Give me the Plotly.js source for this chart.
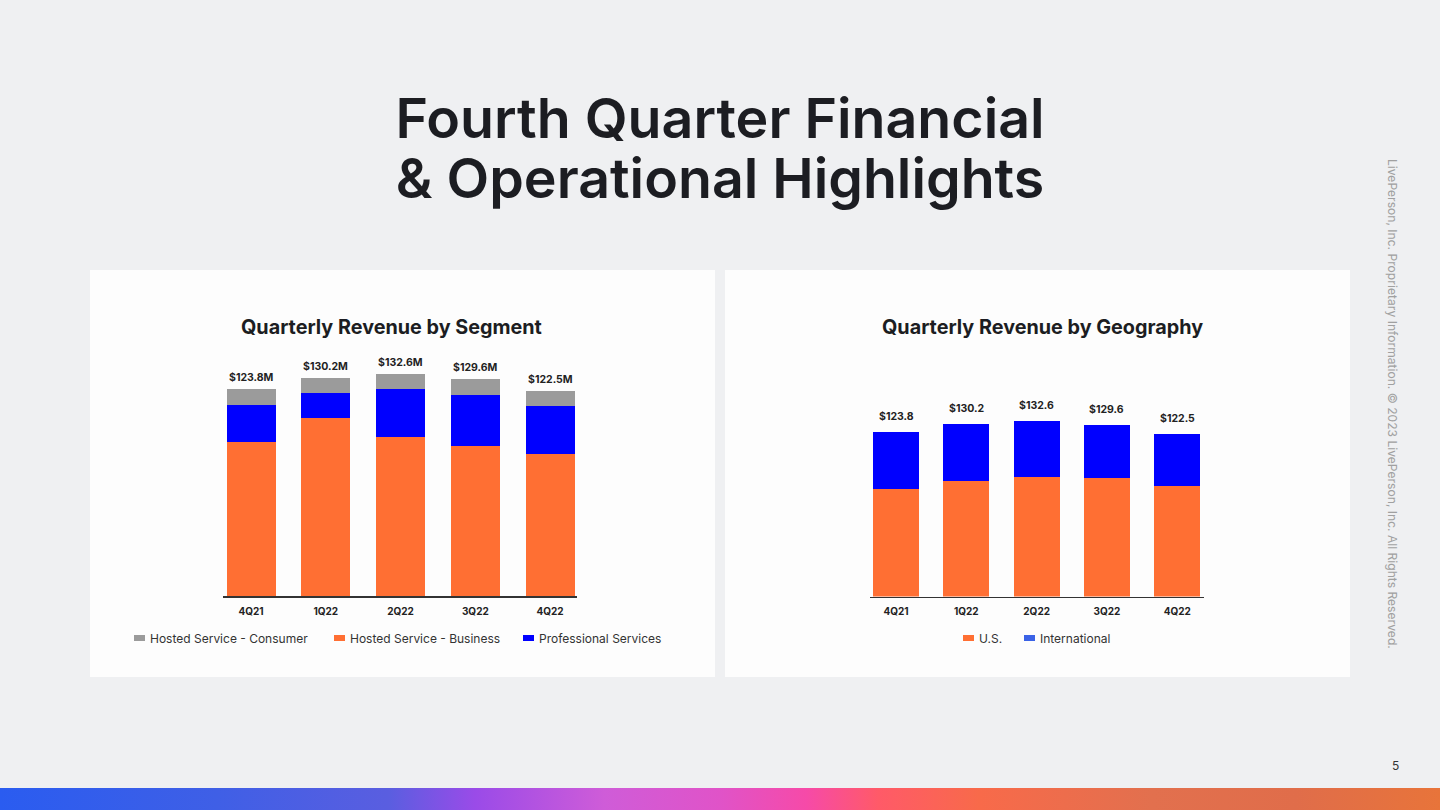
<!DOCTYPE html>
<html>
<head>
<meta charset="utf-8">
<script src="https://cdn.plot.ly/plotly-3.0.1.min.js"></script>
<style>
  html, body { margin: 0; padding: 0; width: 1440px; height: 810px; overflow: hidden; background: #eff0f2; }
  #bar { position: absolute; left: 0; top: 788px; width: 1440px; height: 22px;
    background: linear-gradient(90deg, #2a5cf0 0%, #3f5fe6 15%, #5a5ee0 27%, #9a4be8 33%, #cf5cd8 42%, #e053c8 50%, #f64aa8 56%, #ff5a68 61%, #f86a4a 68%, #e2704e 80%, #e06d4a 90%, #e8743a 100%); }
  #chart { position: absolute; left: 0; top: 0; width: 1440px; height: 810px; }
  #title { position: absolute; left: 0; top: 88px; width: 1440px; text-align: center; z-index: 2;
    font-family: Inter, 'Noto Sans', sans-serif; font-weight: 600; font-size: 55.5px; line-height: 60px; color: #1c1d22; }
</style>
</head>
<body>
<div id="bar"></div>
<div id="chart"></div>
<div id="title">Fourth Quarter Financial<br>&amp; Operational Highlights</div>
<script>
// ---- Data ----
const quarters = ["4Q21", "1Q22", "2Q22", "3Q22", "4Q22"];

// Segment chart (USD millions)
const segBusiness     = [91.8, 106.5, 94.9, 89.5, 85.0];
const segProfessional = [22.4, 14.8, 28.6, 30.6, 28.6];
const segConsumer     = [9.6, 8.9, 9.1, 9.5, 8.9];
const segTotals       = [123.8, 130.2, 132.6, 129.6, 122.5];
const segTotalLabels  = ["$123.8M", "$130.2M", "$132.6M", "$129.6M", "$122.5M"];
const segNames = ["Hosted Service - Consumer", "Hosted Service - Business", "Professional Services"];

// Geography chart (USD millions)
const geoUS    = [81.0, 86.9, 90.4, 89.7, 83.4];
const geoIntl  = [42.8, 43.3, 42.2, 39.9, 39.1];
const geoTotals = [123.8, 130.2, 132.6, 129.6, 122.5];
const geoTotalLabels = ["$123.8", "$130.2", "$132.6", "$129.6", "$122.5"];
const geoNames = ["U.S.", "International"];

// ---- Styles ----
const ORANGE = "#ff6f33", BLUE = "#0000ff", GRAY = "#9b9b9b", LEGBLUE = "#3a62e6";
const FONT = "Inter, 'Noto Sans', sans-serif";
const W = 1440, H = 810;
const px = x => x / W;
const py = y => 1 - y / H;

const traces = [
  {type: "bar", x: quarters, y: segBusiness, name: segNames[1], marker: {color: ORANGE}, xaxis: "x", yaxis: "y", showlegend: false, hoverinfo: "skip"},
  {type: "bar", x: quarters, y: segProfessional, name: segNames[2], marker: {color: BLUE}, xaxis: "x", yaxis: "y", showlegend: false, hoverinfo: "skip"},
  {type: "bar", x: quarters, y: segConsumer, name: segNames[0], marker: {color: GRAY}, xaxis: "x", yaxis: "y", showlegend: false, hoverinfo: "skip"},
  {type: "bar", x: quarters, y: geoUS, name: geoNames[0], marker: {color: ORANGE}, xaxis: "x2", yaxis: "y2", showlegend: false, hoverinfo: "skip"},
  {type: "bar", x: quarters, y: geoIntl, name: geoNames[1], marker: {color: BLUE}, xaxis: "x2", yaxis: "y2", showlegend: false, hoverinfo: "skip"}
];

const annotations = [];
const shapes = [];

// Panels
shapes.push({type: "rect", xref: "paper", yref: "paper", x0: px(90), x1: px(715), y0: py(677), y1: py(270), fillcolor: "#fdfdfd", line: {width: 0}, layer: "below"});
shapes.push({type: "rect", xref: "paper", yref: "paper", x0: px(725), x1: px(1350), y0: py(677), y1: py(270), fillcolor: "#fdfdfd", line: {width: 0}, layer: "below"});

// Chart titles
annotations.push({xref: "paper", yref: "paper", x: px(392), y: py(327), xanchor: "center", yanchor: "middle", showarrow: false,
  text: "Quarterly Revenue by Segment", font: {family: FONT, size: 19.8, color: "#1c1d22", weight: 700}});
annotations.push({xref: "paper", yref: "paper", x: px(1042), y: py(327), xanchor: "center", yanchor: "middle", showarrow: false,
  text: "Quarterly Revenue by Geography", font: {family: FONT, size: 19.8, color: "#1c1d22", weight: 700}});

// Total labels
quarters.forEach((q, i) => {
  annotations.push({xref: "x", yref: "y", x: q, y: segTotals[i], yanchor: "bottom", yshift: 3, showarrow: false,
    text: segTotalLabels[i], font: {family: FONT, size: 10.5, color: "#222", weight: 700}});
  annotations.push({xref: "x2", yref: "y2", x: q, y: geoTotals[i], yanchor: "bottom", yshift: 7, showarrow: false,
    text: geoTotalLabels[i], font: {family: FONT, size: 10.5, color: "#222", weight: 700}});
});

// Manual legends
function legendItem(sx, cy, color, label) {
  shapes.push({type: "rect", xref: "paper", yref: "paper", x0: px(sx), x1: px(sx + 11), y0: py(cy + 3), y1: py(cy - 3), fillcolor: color, line: {width: 0}});
  annotations.push({xref: "paper", yref: "paper", x: px(sx + 14), y: py(cy), xanchor: "left", yanchor: "middle", showarrow: false,
    text: label, font: {family: FONT, size: 12, color: "#333"}});
}
legendItem(134, 638, GRAY, segNames[0]);
legendItem(334, 638, ORANGE, segNames[1]);
legendItem(523, 638, BLUE, segNames[2]);
legendItem(963, 638, ORANGE, geoNames[0]);
legendItem(1024, 638, LEGBLUE, geoNames[1]);

// Side copyright
annotations.push({xref: "paper", yref: "paper", x: px(1393), y: py(404), xanchor: "center", yanchor: "middle", showarrow: false, textangle: 90,
  text: "LivePerson, Inc. Proprietary Information. © 2023 LivePerson, Inc. All Rights Reserved.",
  font: {family: FONT, size: 12.1, color: "#a0a0a0", weight: 400}});
// Page number
annotations.push({xref: "paper", yref: "paper", x: px(1395), y: py(765), xanchor: "center", yanchor: "middle", showarrow: false,
  text: "5", font: {family: FONT, size: 12, color: "#333"}});

const xaxisBase = {type: "category", showline: true, linecolor: "#333", linewidth: 1.5, ticks: "", showgrid: false, zeroline: false,
  tickfont: {family: FONT, size: 10, color: "#222", weight: 700}, ticklabelstandoff: 5, fixedrange: true};
const yaxisBase = {range: [0, 140], visible: false, showgrid: false, zeroline: false, fixedrange: true};

const layout = {
  width: W, height: H,
  margin: {l: 0, r: 0, t: 0, b: 0},
  paper_bgcolor: "rgba(0,0,0,0)", plot_bgcolor: "rgba(0,0,0,0)",
  barmode: "stack", bargap: 0.345,
  showlegend: false,
  xaxis: Object.assign({}, xaxisBase, {domain: [px(223), px(577)], range: [-0.375, 4.36], anchor: "y"}),
  yaxis: Object.assign({}, yaxisBase, {domain: [py(596), py(361.4)], anchor: "x"}),
  xaxis2: Object.assign({}, xaxisBase, {domain: [px(870), px(1204)], range: [-0.37, 4.38], anchor: "y2"}),
  yaxis2: Object.assign({}, yaxisBase, {domain: [py(596.5), py(411)], anchor: "x2"}),
  shapes: shapes,
  annotations: annotations
};

Plotly.newPlot("chart", traces, layout, {staticPlot: true, displayModeBar: false});
</script>
</body>
</html>
